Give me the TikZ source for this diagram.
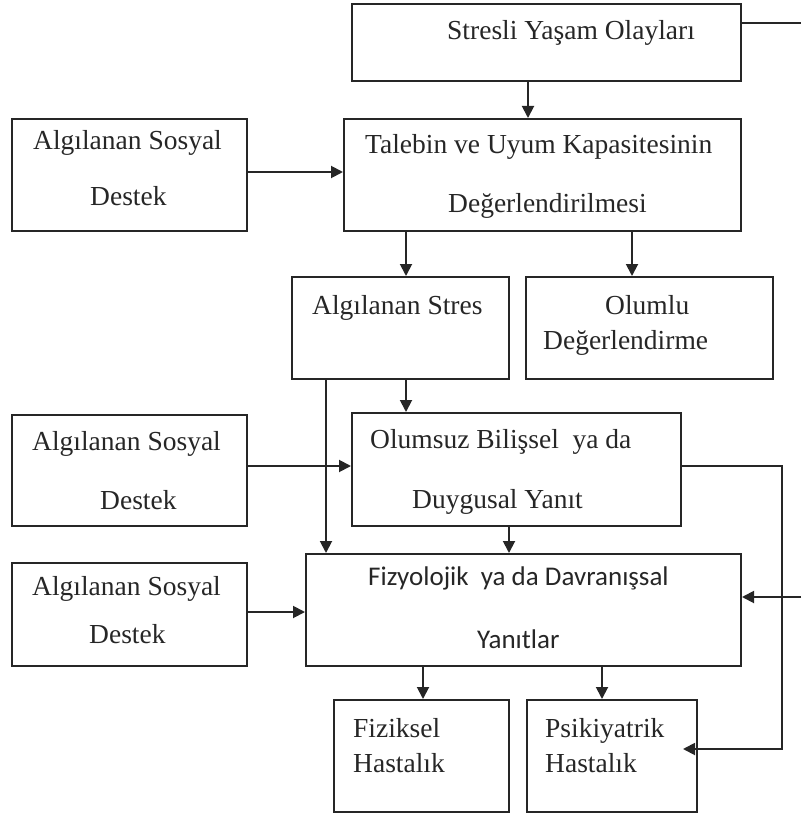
\documentclass[tikz,border=0pt]{standalone}
\usepackage{fontspec}
\setmainfont{Liberation Serif}
\newfontfamily\calfont{Carlito}
\usetikzlibrary{arrows.meta}
\tikzset{
  box/.style={draw=black!85, line width=2pt, inner sep=0pt, fill=none},
  lbl/.style={anchor=base west, inner sep=0pt, text=black!85, font=\fontsize{27.5}{30}\selectfont},
  arr/.style={draw=black!85, line width=1.9pt, -{Triangle[length=12pt,width=12pt]}},
  ln/.style={draw=black!85, line width=1.9pt}
}
\begin{document}
\begin{tikzpicture}[x=1pt,y=-1pt]
\useasboundingbox (0,0) rectangle (801,818);
% boxes
\node[box, minimum width=389pt, minimum height=77pt]  (stresli)  at (546.5,42.5) {};
\node[box, minimum width=235pt, minimum height=112pt] (asd1)     at (129.5,175) {};
\node[box, minimum width=397pt, minimum height=112pt] (talebin)  at (542.5,175) {};
\node[box, minimum width=217pt, minimum height=102pt] (stres)    at (400.5,328) {};
\node[box, minimum width=247pt, minimum height=102pt] (olumlu)   at (649.5,328) {};
\node[box, minimum width=235pt, minimum height=111pt] (asd2)     at (129.5,470.5) {};
\node[box, minimum width=329pt, minimum height=113pt] (olumsuz)  at (516.5,469.5) {};
\node[box, minimum width=235pt, minimum height=103pt] (asd3)     at (129.5,614.5) {};
\node[box, minimum width=435pt, minimum height=112pt] (fizyo)    at (523.5,610) {};
\node[box, minimum width=175pt, minimum height=112pt] (fiziksel) at (421.5,756) {};
\node[box, minimum width=170pt, minimum height=112pt] (psik)     at (612,756) {};
% labels
\node[lbl] (t1)  at (447,40)  {Stresli Yaşam Olayları};
\node[lbl] (t2a) at (33,150)  {Algılanan Sosyal};
\node[lbl] (t2b) at (90,206)  {Destek};
\node[lbl] (t3a) at (365,154) {Talebin ve Uyum Kapasitesinin};
\node[lbl] (t3b) at (448,213) {Değerlendirilmesi};
\node[lbl] (t4)  at (312,314) {Algılanan Stres};
\node[lbl] (t5a) at (605,314) {Olumlu};
\node[lbl] (t5b) at (543,349) {Değerlendirme};
\node[lbl] (t6a) at (32,450)  {Algılanan Sosyal};
\node[lbl] (t6b) at (100,509) {Destek};
\node[lbl] (t7a) at (370,448) {Olumsuz Bilişsel\ \ ya da};
\node[lbl] (t7b) at (412,508) {Duygusal Yanıt};
\node[lbl] (t8a) at (32,595)  {Algılanan Sosyal};
\node[lbl] (t8b) at (89,643)  {Destek};
\node[lbl, font=\calfont\fontsize{27}{30}\selectfont] (t9a) at (368,585) {Fizyolojik\ \ ya da Davranışsal};
\node[lbl, font=\calfont\fontsize{27}{30}\selectfont] (t9b) at (477,648) {Yanıtlar};
\node[lbl] (t10a) at (353,737) {Fiziksel};
\node[lbl] (t10b) at (353,772) {Hastalık};
\node[lbl] (t11a) at (545,737) {Psikiyatrik};
\node[lbl] (t11b) at (545,772) {Hastalık};
% helper coordinates
\coordinate (c1) at (528,0);
\coordinate (c2) at (406,0);
\coordinate (c3) at (632,0);
\coordinate (c4) at (326,0);
\coordinate (c5) at (509,0);
\coordinate (c6) at (423,0);
\coordinate (c7) at (602,0);
\coordinate (y1) at (0,172);
\coordinate (y2) at (0,466);
\coordinate (y3) at (0,612);
\coordinate (k1) at (782,466);
\coordinate (k2) at (782,749);
\coordinate (psikin) at (683,749);
\coordinate (topout) at (801,23);
\coordinate (rightin) at (801,597);
% connectors
\draw[arr] (stresli.south -| c1) -- (talebin.north -| c1);
\draw[arr] (asd1.east |- y1) -- (talebin.west |- y1);
\draw[arr] (talebin.south -| c2) -- (stres.north -| c2);
\draw[arr] (talebin.south -| c3) -- (olumlu.north -| c3);
\draw[arr] (stres.south -| c2) -- (olumsuz.north -| c2);
\draw[arr] (stres.south -| c4) -- (fizyo.north -| c4);
\draw[arr] (asd2.east |- y2) -- (olumsuz.west |- y2);
\draw[arr] (olumsuz.south -| c5) -- (fizyo.north -| c5);
\draw[arr] (asd3.east |- y3) -- (fizyo.west |- y3);
\draw[arr] (fizyo.south -| c6) -- (fiziksel.north -| c6);
\draw[arr] (fizyo.south -| c7) -- (psik.north -| c7);
\draw[arr] (olumsuz.east |- k1) -- (k1) -- (k2) -- (psikin);
\draw[ln] (stresli.east |- topout) -- (topout);
\draw[arr] (rightin) -- (fizyo.east |- rightin);
\end{tikzpicture}
\end{document}
